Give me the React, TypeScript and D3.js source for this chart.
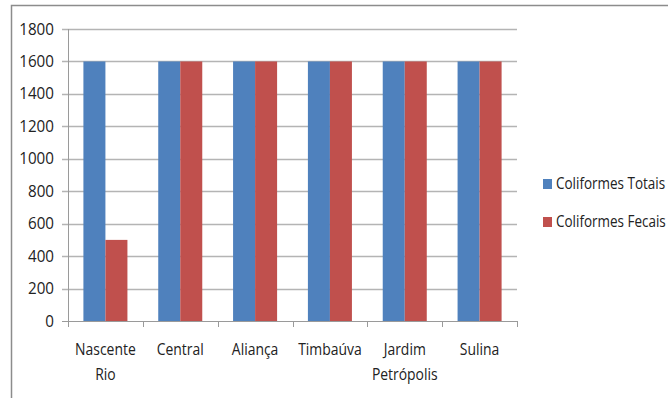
import React, { useEffect, useRef } from 'react';
import * as d3 from 'd3';

const categories = ['Nascente Rio', 'Central', 'Aliança', 'Timbaúva', 'Jardim Petrópolis', 'Sulina'];
const seriesNames = ['Coliformes Totais', 'Coliformes Fecais'];
const totais = [1600, 1600, 1600, 1600, 1600, 1600];
const fecais = [500, 1600, 1600, 1600, 1600, 1600];
const yTicks = [0, 200, 400, 600, 800, 1000, 1200, 1400, 1600, 1800];
const colors = ['#4f81bd', '#c0504d'];

const FONT = '"Open Sans", "DejaVu Sans", sans-serif';
const SQUEEZE = 0.87; // reference font is narrow, squeeze horizontally

const App = () => {
  const svgRef = useRef<SVGSVGElement>(null);

  const width = 668;
  const height = 398;
  const margin = { top: 29, right: 151, bottom: 77, left: 68 };

  useEffect(() => {
    if (!svgRef.current) return;
    const svg = d3.select(svgRef.current);
    svg.selectAll('*').remove();

    svg.append('rect')
      .attr('width', width).attr('height', height).attr('fill', '#fff');

    // outer chart frame
    svg.append('rect')
      .attr('x', 11.5).attr('y', 5.5)
      .attr('width', width + 20).attr('height', height + 20)
      .attr('fill', 'none').attr('stroke', '#8c8c8c').attr('stroke-width', 1.5);

    const x0 = d3.scaleBand()
      .domain(categories)
      .range([margin.left, width - margin.right])
      .paddingInner(0).paddingOuter(0);

    const x1 = d3.scaleBand()
      .domain(seriesNames)
      .range([0, x0.bandwidth()])
      .paddingOuter(0.7).paddingInner(0);

    const y = d3.scaleLinear()
      .domain([0, 1800])
      .range([height - margin.bottom, margin.top]);

    // gridlines
    svg.append('g')
      .selectAll('line')
      .data(yTicks)
      .enter()
      .append('line')
      .attr('x1', margin.left - 6)
      .attr('x2', width - margin.right)
      .attr('y1', d => Math.round(y(d)) + 0.5)
      .attr('y2', d => Math.round(y(d)) + 0.5)
      .attr('stroke', d => (d === 0 ? '#9a9a9a' : '#b4b4b4'))
      .attr('stroke-width', d => (d === 0 ? 1 : 1.5));

    // y axis line
    svg.append('line')
      .attr('x1', margin.left + 0.5).attr('x2', margin.left + 0.5)
      .attr('y1', margin.top).attr('y2', height - margin.bottom)
      .attr('stroke', '#9a9a9a');

    // y tick labels
    svg.append('g')
      .selectAll('text')
      .data(yTicks)
      .enter()
      .append('text')
      .attr('transform', d => `translate(${margin.left - 14},${y(d)}) scale(0.95,1)`)
      .attr('dy', '0.35em')
      .attr('text-anchor', 'end')
      .attr('font-family', FONT)
      .attr('font-size', 16)
      .attr('fill', '#222')
      .text(d => d);

    // x ticks
    const xTicks = categories.map(c => x0(c) as number).concat([width - margin.right]);
    svg.append('g')
      .selectAll('line')
      .data(xTicks)
      .enter()
      .append('line')
      .attr('x1', d => Math.round(d) + 0.5)
      .attr('x2', d => Math.round(d) + 0.5)
      .attr('y1', height - margin.bottom)
      .attr('y2', height - margin.bottom + 6)
      .attr('stroke', '#9a9a9a');

    // bars
    const series = [totais, fecais];
    const groups = svg.append('g')
      .selectAll('g')
      .data(categories)
      .enter()
      .append('g')
      .attr('transform', d => `translate(${x0(d)},0)`);

    groups.selectAll('rect')
      .data((_, i) => series.map((s, k) => ({ name: seriesNames[k], value: s[i], k })))
      .enter()
      .append('rect')
      .attr('x', d => x1(d.name) as number)
      .attr('y', d => y(d.value))
      .attr('width', x1.bandwidth())
      .attr('height', d => y(0) - y(d.value))
      .attr('fill', d => colors[d.k]);

    // category labels
    const labels = svg.append('g')
      .selectAll('text')
      .data(categories)
      .enter()
      .append('text')
      .attr('transform', d =>
        `translate(${(x0(d) as number) + x0.bandwidth() / 2},${height - margin.bottom + 34}) scale(${SQUEEZE},1)`)
      .attr('text-anchor', 'middle')
      .attr('font-family', FONT)
      .attr('font-size', 16)
      .attr('fill', '#222');

    labels.each(function (d) {
      const words = d.split(' ');
      const t = d3.select(this);
      words.forEach((w, i) => {
        t.append('tspan')
          .attr('x', 0)
          .attr('dy', i === 0 ? 0 : 25)
          .text(w);
      });
    });

    // legend
    const legend = svg.append('g')
      .selectAll('g')
      .data(seriesNames)
      .enter()
      .append('g')
      .attr('transform', (_, i) => `translate(543,${179 + i * 38})`);

    legend.append('rect')
      .attr('width', 9).attr('height', 10)
      .attr('fill', (_, i) => colors[i]);

    legend.append('text')
      .attr('transform', `translate(13,5) scale(${SQUEEZE},1)`)
      .attr('dy', '0.35em')
      .attr('font-family', FONT)
      .attr('font-size', 15.5)
      .attr('fill', '#222')
      .text(d => d);
  }, []);

  return (
    <svg
      ref={svgRef}
      width={width}
      height={height}
      style={{ position: 'absolute', left: 0, top: 0 }}
    />
  );
};

export default App;
